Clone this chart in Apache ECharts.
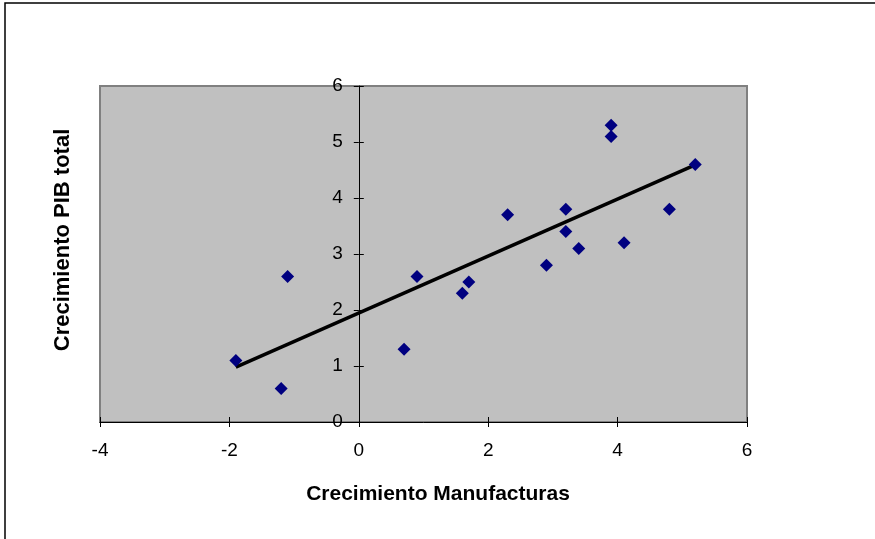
<!DOCTYPE html>
<html>
<head>
<meta charset="utf-8">
<script src="https://cdn.jsdelivr.net/npm/echarts@6/dist/echarts.min.js"></script>
<style>html,body{margin:0;padding:0;background:#fff;}#c{width:875px;height:539px;}</style>
</head>
<body>
<div id="c"></div>
<script>
var manufacturas = [3.9, 3.9, 5.2, 2.3, 3.2, 4.8, 3.2, 3.4, 4.1, 2.9, -1.1, -1.9, -1.2, 0.9, 1.7, 1.6, 0.7];
var pibTotal     = [5.3, 5.1, 4.6, 3.7, 3.8, 3.8, 3.4, 3.1, 3.2, 2.8, 2.6, 1.1, 0.6, 2.6, 2.5, 2.3, 1.3];
var trendX = [-1.9, 5.2];
var trendY = [0.98, 4.59];
var xTicks = [-4, -2, 0, 2, 4, 6];
var yTicks = [0, 1, 2, 3, 4, 5, 6];
var xTitle = 'Crecimiento Manufacturas';
var yTitle = 'Crecimiento PIB total';

var pts = manufacturas.map(function (x, i) { return [x, pibTotal[i]]; });
var trend = trendX.map(function (x, i) { return [x, trendY[i]]; });

var gridLeft = 100, gridRight = 128, gridW = 875 - gridLeft - gridRight;
var xMin = xTicks[0], xMax = xTicks[xTicks.length - 1];
var yOff = -(0 - xMin) / (xMax - xMin) * gridW;

var chart = echarts.init(document.getElementById('c'));
var font = 'Arial, "Liberation Sans", sans-serif';
chart.setOption({
  animation: false,
  backgroundColor: '#fff',
  grid: { left: gridLeft, right: gridRight, top: 86, bottom: 117, show: true,
          backgroundColor: '#c0c0c0', borderColor: '#808080', borderWidth: 2 },
  xAxis: [
    { type: 'value', min: xMin, max: xMax, interval: 2, position: 'bottom', splitLine: { show: false },
      axisLine: { show: true, onZero: false, lineStyle: { color: '#000', width: 1 } },
      axisTick: { show: true, inside: false, length: 5, lineStyle: { color: '#000' } },
      axisLabel: { color: '#000', fontSize: 19, fontFamily: font, margin: 19 } },
    { type: 'value', min: xMin, max: xMax, interval: 2, position: 'bottom', splitLine: { show: false },
      axisLine: { show: false, onZero: false },
      axisTick: { show: true, inside: true, length: 5, lineStyle: { color: '#000' } },
      axisLabel: { show: false } }
  ],
  yAxis: [
    { type: 'value', min: yTicks[0], max: yTicks[yTicks.length - 1], interval: 1, position: 'left', offset: yOff,
      splitLine: { show: false },
      axisLine: { show: true, onZero: false, lineStyle: { color: '#000', width: 1 } },
      axisTick: { show: true, inside: false, length: 5, lineStyle: { color: '#000' } },
      axisLabel: { color: '#000', fontSize: 19, fontFamily: font, margin: 16 } },
    { type: 'value', min: yTicks[0], max: yTicks[yTicks.length - 1], interval: 1, position: 'left', offset: yOff,
      splitLine: { show: false },
      axisLine: { show: false, onZero: false },
      axisTick: { show: true, inside: true, length: 5, lineStyle: { color: '#000' } },
      axisLabel: { show: false } }
  ],
  graphic: [
    { type: 'rect', shape: { x: 5, y: 3, width: 880, height: 550 }, style: { fill: 'none', stroke: '#000', lineWidth: 1.5 }, z: 100 },
    { type: 'text', position: [438, 494], style: { text: xTitle, font: 'bold 21px ' + font, fill: '#000', textAlign: 'center', textVerticalAlign: 'middle' } },
    { type: 'text', rotation: Math.PI / 2, position: [63, 240], style: { text: yTitle, font: 'bold 22px ' + font, fill: '#000', textAlign: 'center', textVerticalAlign: 'middle' } }
  ],
  series: [
    { type: 'line', data: trend, showSymbol: false, symbol: 'none', lineStyle: { color: '#000', width: 3.5 }, z: 3 },
    { type: 'scatter', data: pts, symbol: 'diamond', symbolSize: 13, itemStyle: { color: '#000080', opacity: 1 }, z: 4 }
  ]
});
</script>
</body>
</html>
